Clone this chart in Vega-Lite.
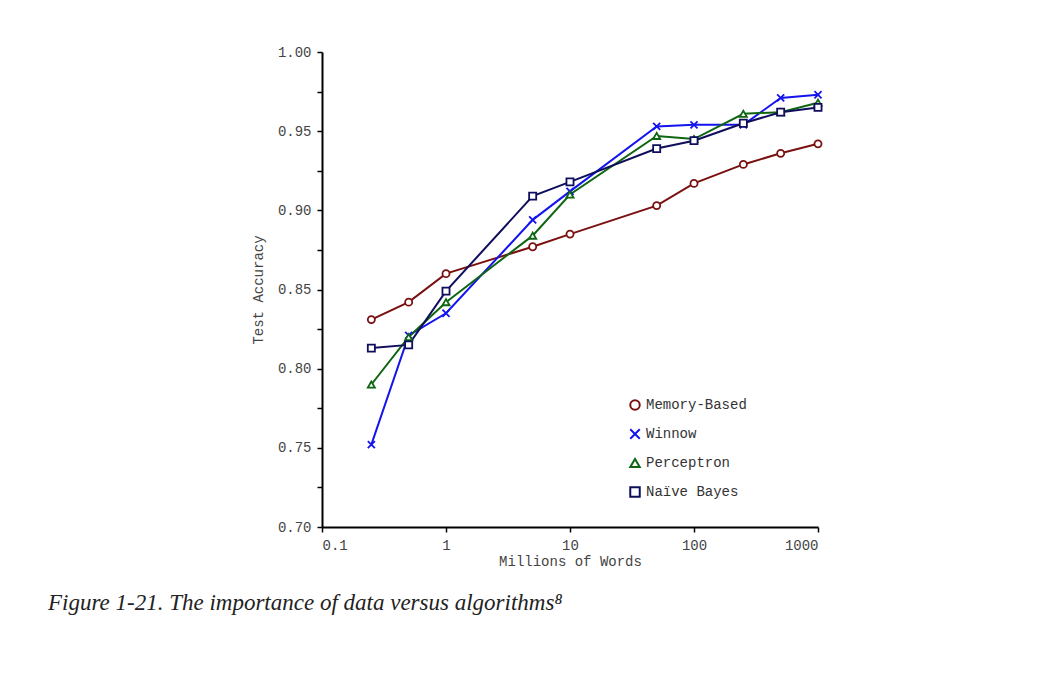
{
  "$schema": "https://vega.github.io/schema/vega-lite/v6.json",
  "width": 496,
  "height": 475,
  "autosize": "none",
  "padding": {"left": 322, "top": 52, "right": 234, "bottom": 163},
  "background": "white",
  "title": {
    "text": "Figure 1-21. The importance of data versus algorithms⁸",
    "orient": "bottom",
    "anchor": "start",
    "frame": "group",
    "dx": -274,
    "offset": 24,
    "font": "Liberation Serif",
    "fontStyle": "italic",
    "fontWeight": "normal",
    "fontSize": 23,
    "color": "#222"
  },
  "data": {
    "values": [
      {"words": 0.25, "acc": 0.831, "algo": "Memory-Based"},
      {"words": 0.5, "acc": 0.842, "algo": "Memory-Based"},
      {"words": 1, "acc": 0.860, "algo": "Memory-Based"},
      {"words": 5, "acc": 0.877, "algo": "Memory-Based"},
      {"words": 10, "acc": 0.885, "algo": "Memory-Based"},
      {"words": 50, "acc": 0.903, "algo": "Memory-Based"},
      {"words": 100, "acc": 0.917, "algo": "Memory-Based"},
      {"words": 250, "acc": 0.929, "algo": "Memory-Based"},
      {"words": 500, "acc": 0.936, "algo": "Memory-Based"},
      {"words": 1000, "acc": 0.942, "algo": "Memory-Based"},
      {"words": 0.25, "acc": 0.752, "algo": "Winnow"},
      {"words": 0.5, "acc": 0.821, "algo": "Winnow"},
      {"words": 1, "acc": 0.835, "algo": "Winnow"},
      {"words": 5, "acc": 0.894, "algo": "Winnow"},
      {"words": 10, "acc": 0.912, "algo": "Winnow"},
      {"words": 50, "acc": 0.953, "algo": "Winnow"},
      {"words": 100, "acc": 0.954, "algo": "Winnow"},
      {"words": 250, "acc": 0.954, "algo": "Winnow"},
      {"words": 500, "acc": 0.971, "algo": "Winnow"},
      {"words": 1000, "acc": 0.973, "algo": "Winnow"},
      {"words": 0.25, "acc": 0.790, "algo": "Perceptron"},
      {"words": 0.5, "acc": 0.820, "algo": "Perceptron"},
      {"words": 1, "acc": 0.842, "algo": "Perceptron"},
      {"words": 5, "acc": 0.884, "algo": "Perceptron"},
      {"words": 10, "acc": 0.910, "algo": "Perceptron"},
      {"words": 50, "acc": 0.947, "algo": "Perceptron"},
      {"words": 100, "acc": 0.945, "algo": "Perceptron"},
      {"words": 250, "acc": 0.961, "algo": "Perceptron"},
      {"words": 500, "acc": 0.962, "algo": "Perceptron"},
      {"words": 1000, "acc": 0.968, "algo": "Perceptron"},
      {"words": 0.25, "acc": 0.813, "algo": "Naïve Bayes"},
      {"words": 0.5, "acc": 0.815, "algo": "Naïve Bayes"},
      {"words": 1, "acc": 0.849, "algo": "Naïve Bayes"},
      {"words": 5, "acc": 0.909, "algo": "Naïve Bayes"},
      {"words": 10, "acc": 0.918, "algo": "Naïve Bayes"},
      {"words": 50, "acc": 0.939, "algo": "Naïve Bayes"},
      {"words": 100, "acc": 0.944, "algo": "Naïve Bayes"},
      {"words": 250, "acc": 0.955, "algo": "Naïve Bayes"},
      {"words": 500, "acc": 0.962, "algo": "Naïve Bayes"},
      {"words": 1000, "acc": 0.965, "algo": "Naïve Bayes"}
    ]
  },
  "mark": {
    "type": "line",
    "strokeWidth": 2,
    "point": {"filled": false, "fill": "white", "size": 50, "strokeWidth": 1.8}
  },
  "encoding": {
    "x": {
      "field": "words",
      "type": "quantitative",
      "title": "Millions of Words",
      "scale": {"type": "log", "domain": [0.1, 1000]},
      "axis": {
        "values": [0.1, 1, 10, 100, 1000],
        "labelExpr": "datum.value < 1 ? '0.1' : format(datum.value, 'd')",
        "grid": false,
        "titlePadding": 2
      }
    },
    "y": {
      "field": "acc",
      "type": "quantitative",
      "title": "Test Accuracy",
      "scale": {"domain": [0.7, 1.0]},
      "axis": {
        "values": [0.7, 0.725, 0.75, 0.775, 0.8, 0.825, 0.85, 0.875, 0.9, 0.925, 0.95, 0.975, 1.0],
        "labelExpr": "round(datum.value * 1000) % 50 == 0 ? format(datum.value, '.2f') : ''",
        "grid": false,
        "titlePadding": 12
      }
    },
    "color": {
      "field": "algo",
      "type": "nominal",
      "sort": ["Memory-Based", "Winnow", "Perceptron", "Naïve Bayes"],
      "scale": {
        "domain": ["Memory-Based", "Winnow", "Perceptron", "Naïve Bayes"],
        "range": ["#7a1010", "#1414ee", "#0f6512", "#0e0e5c"]
      },
      "legend": {
        "title": null,
        "orient": "none",
        "legendX": 306,
        "legendY": 346,
        "rowPadding": 11,
        "symbolSize": 90,
        "labelFont": "Liberation Mono",
        "labelFontSize": 14,
        "labelColor": "#333",
        "symbolStrokeWidth": 2
      }
    },
    "shape": {
      "field": "algo",
      "type": "nominal",
      "sort": ["Memory-Based", "Winnow", "Perceptron", "Naïve Bayes"],
      "scale": {
        "domain": ["Memory-Based", "Winnow", "Perceptron", "Naïve Bayes"],
        "range": ["circle", "M-1,-1L1,1M-1,1L1,-1", "triangle-up", "square"]
      }
    }
  },
  "config": {
    "view": {"stroke": null},
    "axis": {
      "domainColor": "black",
      "domainWidth": 2,
      "tickColor": "black",
      "tickWidth": 1.5,
      "tickSize": 5,
      "labelFont": "Liberation Mono",
      "labelFontSize": 14,
      "labelColor": "#444",
      "titleFont": "Liberation Mono",
      "titleFontSize": 14,
      "titleFontWeight": "normal",
      "titleColor": "#444",
      "labelPadding": 6
    }
  }
}
